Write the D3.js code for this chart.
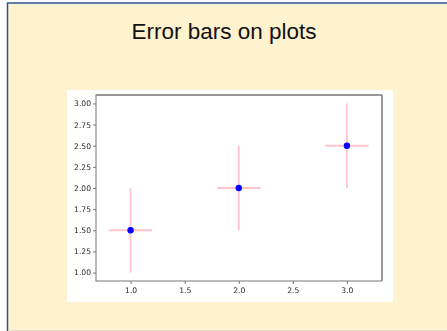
<!DOCTYPE html>
<html>
<head>
<meta charset="utf-8">
<script src="https://cdn.jsdelivr.net/npm/d3@7"></script>
<style>
  html, body { margin: 0; padding: 0; background: #ffffff; }
  svg { display: block; }
</style>
</head>
<body>
<svg id="chart" width="447" height="331"></svg>
<script>
// Data: three points with symmetric x and y errors
const xValues = [1.0, 2.0, 3.0];
const yValues = [1.5, 2.0, 2.5];
const xErrors = [0.2, 0.2, 0.2];
const yErrors = [0.5, 0.5, 0.5];

const xTicks = [1.0, 1.5, 2.0, 2.5, 3.0];
const yTicks = [1.00, 1.25, 1.50, 1.75, 2.00, 2.25, 2.50, 2.75, 3.00];

const title = "Error bars on plots";

const svg = d3.select("#chart");

// Slide background with blue frame on top and left
svg.append("rect")
  .attr("x", 0).attr("y", 0).attr("width", 447).attr("height", 331)
  .attr("fill", "#ffffff");
svg.append("rect")
  .attr("x", 7.5).attr("y", 3).attr("width", 460).attr("height", 340)
  .attr("fill", "#fff2cf")
  .attr("stroke", "#2f5597")
  .attr("stroke-width", 1.5);
svg.append("line")
  .attr("x1", 8).attr("x2", 447).attr("y1", 330.5).attr("y2", 330.5)
  .attr("stroke", "#e2dccb").attr("stroke-width", 1);

// Slide title
svg.append("text")
  .attr("x", 224).attr("y", 39)
  .attr("text-anchor", "middle")
  .attr("font-family", "Liberation Sans, Arial, sans-serif")
  .attr("font-size", 22.5)
  .attr("fill", "#111")
  .text(title);

// White figure area
svg.append("rect")
  .attr("x", 67).attr("y", 90).attr("width", 326).attr("height", 212)
  .attr("fill", "#ffffff");

// Plot area
const plot = { left: 96, right: 381.5, top: 95, bottom: 281 };

const x = d3.scaleLinear().domain([0.68, 3.32]).range([plot.left, plot.right]);
const y = d3.scaleLinear().domain([0.9, 3.1]).range([plot.bottom, plot.top]);

const soft = svg.append("defs").append("filter").attr("id", "soft");
soft.append("feGaussianBlur").attr("stdDeviation", 0.35);

const g = svg.append("g").attr("filter", "url(#soft)");

const axisFont = "DejaVu Sans, sans-serif";

// Axes
const xAxis = d3.axisBottom(x).tickValues(xTicks).tickFormat(d3.format(".1f")).tickSize(3).tickPadding(2);
const yAxis = d3.axisLeft(y).tickValues(yTicks).tickFormat(d3.format(".2f")).tickSize(3).tickPadding(2);

const gx = g.append("g").attr("transform", `translate(0,${plot.bottom})`).call(xAxis);
const gy = g.append("g").attr("transform", `translate(${plot.left},0)`).call(yAxis);

[gx, gy].forEach(a => {
  a.select(".domain").remove();
  a.selectAll(".tick line").attr("stroke", "#555").attr("stroke-width", 0.8);
  a.selectAll(".tick text")
    .attr("font-family", axisFont)
    .attr("font-size", 7.6)
    .attr("fill", "#2a2a2a");
});
gx.selectAll(".tick text").attr("dy", "0.9em");

// Spines
g.append("rect")
  .attr("x", plot.left).attr("y", plot.top)
  .attr("width", plot.right - plot.left).attr("height", plot.bottom - plot.top)
  .attr("fill", "none")
  .attr("stroke", "#777")
  .attr("stroke-width", 1);
g.append("line")
  .attr("x1", plot.left).attr("x2", plot.right + 1)
  .attr("y1", plot.top).attr("y2", plot.top)
  .attr("stroke", "#999").attr("stroke-width", 2);
g.append("line")
  .attr("x1", plot.right + 0.5).attr("x2", plot.right + 0.5)
  .attr("y1", plot.top).attr("y2", plot.bottom)
  .attr("stroke", "#999").attr("stroke-width", 2);

// Error bars
const points = xValues.map((v, i) => ({ x: v, y: yValues[i], ex: xErrors[i], ey: yErrors[i] }));
const errColor = "#ffc4ce";

g.selectAll(".xerr").data(points).enter().append("line")
  .attr("class", "xerr")
  .attr("x1", d => x(d.x - d.ex)).attr("x2", d => x(d.x + d.ex))
  .attr("y1", d => y(d.y)).attr("y2", d => y(d.y))
  .attr("stroke", errColor).attr("stroke-width", 1.8);

g.selectAll(".yerr").data(points).enter().append("line")
  .attr("class", "yerr")
  .attr("x1", d => x(d.x)).attr("x2", d => x(d.x))
  .attr("y1", d => y(d.y - d.ey)).attr("y2", d => y(d.y + d.ey))
  .attr("stroke", errColor).attr("stroke-width", 1.8);

// Markers
g.selectAll(".pt").data(points).enter().append("circle")
  .attr("class", "pt")
  .attr("cx", d => x(d.x)).attr("cy", d => y(d.y))
  .attr("r", 3.2)
  .attr("fill", "#0000ff");
</script>
</body>
</html>
